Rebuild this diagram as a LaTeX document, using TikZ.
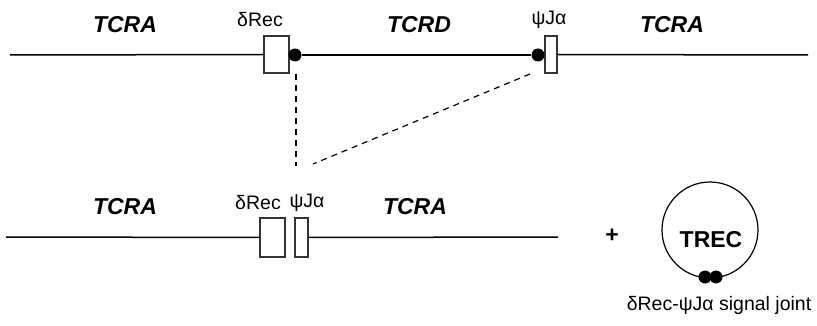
\documentclass[tikz,border=0pt]{standalone}
\usepackage{fontspec}
\setmainfont{Liberation Sans}
\begin{document}
\begin{tikzpicture}[x=1pt,y=-1pt,
  gene/.style={font=\fontsize{23}{23}\selectfont\bfseries\itshape, inner sep=0pt},
  seg/.style={font=\fontsize{19.5}{20}\selectfont, inner sep=0pt},
  rss/.style={draw=black!80, line width=1.4pt, fill=white, inner sep=0pt, minimum height=37pt},
  dotc/.style={circle, fill=black, inner sep=0pt, minimum size=13pt},
  wire/.style={line width=1.5pt},
  guide/.style={line width=1.2pt, dash pattern=on 6pt off 5pt}]
\useasboundingbox (0,0) rectangle (817,326);
% top row
\coordinate (tl) at (10,55);
\coordinate (tr) at (808,55);
\node[rss, minimum width=25pt] (d1) at (276.5,54.5) {};
\node[rss, minimum width=12pt] (j1) at (551,54.5) {};
\draw[wire] (tl) -- (d1.west);
\draw[wire] (j1.east) -- (tr);
\node[dotc] (dot1) at (295,55) {};
\node[dotc] (dot2) at (538,55) {};
\draw[line width=2.2pt] (dot1) -- (dot2);
\node[gene] (ta1) at (125,25) {TCRA};
\node[gene] (td) at (419,25) {TCRD};
\node[gene] (ta2) at (672,25) {TCRA};
\node[seg] (ld1) at (260,20) {δRec};
\node[seg] (lj1) at (549,20) {ψJα};
% dashed guides
\coordinate (v1) at (296,74);
\coordinate (v2) at (296,166);
\coordinate (g1) at (530,74);
\coordinate (g2) at (313,164);
\draw[guide] (v1) -- (v2);
\draw[guide] (g1) -- (g2);
% bottom row
\coordinate (bl) at (6,237);
\coordinate (br) at (558,237);
\node[rss, minimum width=25pt, minimum height=39pt] (d2) at (272.5,237.5) {};
\node[rss, minimum width=13pt, minimum height=39pt] (j2) at (301.5,237.5) {};
\draw[wire] (bl) -- (d2.west);
\draw[wire] (j2.east) -- (br);
\node[gene] (tb1) at (125,207) {TCRA};
\node[gene] (tb2) at (415,207) {TCRA};
\node[seg] (ld2) at (258,203) {δRec};
\node[seg] (lj2) at (307,203) {ψJα};
% TREC
\node[font=\fontsize{23}{23}\selectfont\bfseries, inner sep=0pt] (plus) at (612,236) {+};
\node[circle, draw, line width=1.2pt, minimum size=96pt, inner sep=0pt] (trec) at (710,230) {};
\node[font=\fontsize{23}{23}\selectfont\bfseries, inner sep=0pt] (trecl) at (711,240) {TREC};
\node[dotc] (sj1) at (705,277) {};
\node[dotc] (sj2) at (716,277) {};
\node[seg] (cap) at (719,305) {δRec-ψJα signal joint};
\end{tikzpicture}
\end{document}
